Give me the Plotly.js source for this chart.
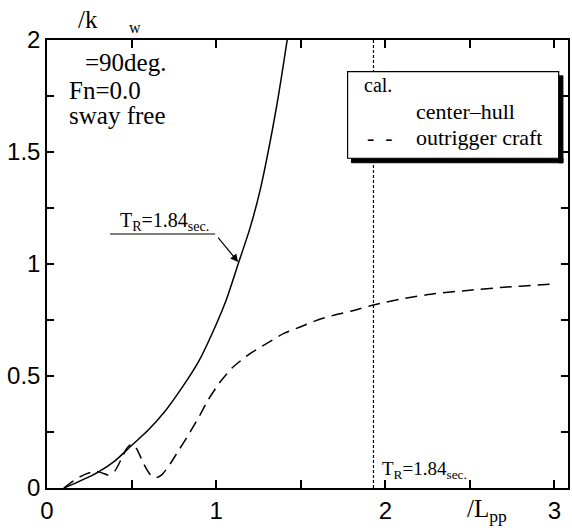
<!DOCTYPE html>
<html>
<head>
<meta charset="utf-8">
<script src="https://cdn.plot.ly/plotly-3.0.1.min.js"></script>
<style>html,body{margin:0;padding:0;background:#fff;}#chart{width:572px;height:532px;}</style>
</head>
<body>
<div id="chart"></div>
<script>
// center-hull (solid)
var hullX = [0.10, 0.20, 0.30, 0.40, 0.50, 0.60, 0.70, 0.80, 0.90, 1.00, 1.06, 1.13, 1.20, 1.26, 1.32, 1.37, 1.42];
var hullY = [0.00, 0.033, 0.07, 0.12, 0.19, 0.26, 0.345, 0.45, 0.57, 0.73, 0.84, 1.00, 1.16, 1.33, 1.55, 1.76, 2.00];
// outrigger craft (dashed)
var outX = [0.10, 0.15, 0.20, 0.25, 0.29, 0.33, 0.36, 0.40, 0.44, 0.47, 0.50, 0.53, 0.57, 0.61, 0.645, 0.68, 0.73, 0.78, 0.83, 0.90, 0.95, 1.02, 1.10, 1.20, 1.30, 1.40, 1.50, 1.60, 1.70, 1.80, 1.93, 2.10, 2.30, 2.50, 2.70, 2.90, 3.00];
var outY = [0.00, 0.028, 0.052, 0.068, 0.075, 0.066, 0.058, 0.075, 0.13, 0.175, 0.196, 0.175, 0.11, 0.06, 0.046, 0.06, 0.11, 0.17, 0.23, 0.32, 0.39, 0.47, 0.54, 0.60, 0.646, 0.69, 0.72, 0.75, 0.772, 0.79, 0.817, 0.845, 0.868, 0.883, 0.896, 0.906, 0.911];
var vLineX = 1.93;
// ticks: every 0.5 on x, every 0.25 on y, labels on the whole/half values
var xTickVals = [0, 0.5, 1, 1.5, 2, 2.5, 3];
var xTickText = ['0', '', '1', '', '2', '', '3'];
var yTickVals = [0, 0.25, 0.5, 0.75, 1, 1.25, 1.5, 1.75, 2];
var yTickText = ['0', '', '0.5', '', '1', '', '1.5', '', '2'];

var serif = 'Liberation Serif, Times New Roman, serif';
var sans = 'Liberation Sans, Arial, sans-serif';

var traces = [
  {x: hullX, y: hullY, mode: 'lines', line: {color: 'black', width: 1.5, shape: 'spline', smoothing: 0.8}},
  {x: outX, y: outY, mode: 'lines', line: {color: 'black', width: 1.5, dash: '12px,7px', shape: 'spline', smoothing: 0.6}}
];

var layout = {
  width: 572, height: 532,
  margin: {l: 47, r: 4, t: 40, b: 44},
  showlegend: false,
  xaxis: {range: [0, 3.08], showline: true, linecolor: 'black', linewidth: 1.5, mirror: 'allticks', ticks: 'inside', ticklen: 8, tickwidth: 1.8, tickcolor: 'black', tickmode: 'array', tickvals: xTickVals, ticktext: xTickText, showgrid: false, zeroline: false, tickfont: {family: sans, size: 24, color: 'black'}},
  yaxis: {range: [0, 2], showline: true, linecolor: 'black', linewidth: 1.5, mirror: 'allticks', ticks: 'inside', ticklen: 7, tickwidth: 1.8, tickcolor: 'black', tickmode: 'array', tickvals: yTickVals, ticktext: yTickText, showgrid: false, zeroline: false, tickfont: {family: sans, size: 24, color: 'black'}},
  shapes: [
    {type: 'line', xref: 'x', yref: 'y', x0: vLineX, x1: vLineX, y0: 0, y1: 2, line: {color: 'black', width: 1.2, dash: '3px,2px'}},
    // legend shadow bands and box
    {type: 'rect', xref: 'x', yref: 'y', x0: 3.025, x1: 3.05, y0: 1.452, y1: 1.84, fillcolor: 'black', line: {color: 'black', width: 1}},
    {type: 'rect', xref: 'x', yref: 'y', x0: 1.80, x1: 3.05, y0: 1.452, y1: 1.472, fillcolor: 'black', line: {color: 'black', width: 1}},
    {type: 'rect', xref: 'x', yref: 'y', x0: 1.777, x1: 3.025, y0: 1.472, y1: 1.859, fillcolor: 'white', line: {color: 'black', width: 1.2}},
    // annotation leader line
    {type: 'line', xref: 'x', yref: 'y', x0: 0.373, x1: 0.994, y0: 1.134, y1: 1.134, line: {color: 'black', width: 1.2}}
  ],
  annotations: [
    {xref: 'paper', yref: 'paper', x: 0.056, y: 1.045, xanchor: 'left', yanchor: 'middle', showarrow: false, text: '/k', font: {family: serif, size: 25, color: 'black'}},
    {xref: 'paper', yref: 'paper', x: 0.153, y: 1.028, xanchor: 'left', yanchor: 'middle', showarrow: false, text: 'w', font: {family: serif, size: 16, color: 'black'}},
    {xref: 'x', yref: 'y', x: 0.21, y: 1.9, xanchor: 'left', yanchor: 'middle', showarrow: false, text: '=90deg.', font: {family: serif, size: 25, color: 'black'}},
    {xref: 'x', yref: 'y', x: 0.12, y: 1.775, xanchor: 'left', yanchor: 'middle', showarrow: false, text: 'Fn=0.0', font: {family: serif, size: 25, color: 'black'}},
    {xref: 'x', yref: 'y', x: 0.12, y: 1.665, xanchor: 'left', yanchor: 'middle', showarrow: false, text: 'sway free', font: {family: serif, size: 25, color: 'black'}},
    {xref: 'x', yref: 'y', x: 1.86, y: 1.8, xanchor: 'left', yanchor: 'middle', showarrow: false, text: 'cal.', font: {family: serif, size: 20, color: 'black'}},
    {xref: 'x', yref: 'y', x: 2.17, y: 1.68, xanchor: 'left', yanchor: 'middle', showarrow: false, text: 'center\u2013hull', font: {family: serif, size: 22, color: 'black'}},
    {xref: 'x', yref: 'y', x: 1.88, y: 1.565, xanchor: 'left', yanchor: 'middle', showarrow: false, text: '-  -', font: {family: serif, size: 22, color: 'black'}},
    {xref: 'x', yref: 'y', x: 2.17, y: 1.565, xanchor: 'left', yanchor: 'middle', showarrow: false, text: 'outrigger craft', font: {family: serif, size: 22, color: 'black'}},
    {xref: 'x', yref: 'y', x: 0.42, y: 1.19, xanchor: 'left', yanchor: 'middle', showarrow: false, text: 'T<sub>R</sub>=1.84<sub>sec.</sub>', font: {family: serif, size: 20, color: 'black'}},
    {xref: 'x', yref: 'y', x: 1.13, y: 1.009, axref: 'x', ayref: 'y', ax: 0.994, ay: 1.134, showarrow: true, arrowhead: 2, arrowsize: 1.3, arrowwidth: 1.2, arrowcolor: 'black', text: ' '},
    {xref: 'x', yref: 'y', x: 1.97, y: 0.08, xanchor: 'left', yanchor: 'middle', showarrow: false, text: 'T<sub>R</sub>=1.84<sub>sec.</sub>', font: {family: serif, size: 19, color: 'black'}},
    {xref: 'x', yref: 'paper', x: 2.47, y: -0.05, xanchor: 'left', yanchor: 'middle', showarrow: false, text: '/L<sub>pp</sub>', font: {family: serif, size: 25, color: 'black'}}
  ]
};

Plotly.newPlot('chart', traces, layout, {displayModeBar: false}).then(function (gd) {
  // fallback: if the axis tick marks were not drawn, add them as inside tick segments
  var n = gd.querySelectorAll('path.xtick, path.ytick').length;
  if (n > 0) return;
  var xLen = 8 / 224, yLen = 7 / 169, extra = [];
  xTickVals.forEach(function (v) {
    extra.push({type: 'line', xref: 'x', yref: 'y', x0: v, x1: v, y0: 0, y1: xLen, line: {color: 'black', width: 1.8}});
    extra.push({type: 'line', xref: 'x', yref: 'y', x0: v, x1: v, y0: 2, y1: 2 - xLen, line: {color: 'black', width: 1.8}});
  });
  yTickVals.forEach(function (v) {
    extra.push({type: 'line', xref: 'x', yref: 'y', x0: 0, x1: yLen, y0: v, y1: v, line: {color: 'black', width: 1.8}});
    extra.push({type: 'line', xref: 'x', yref: 'y', x0: 3.08, x1: 3.08 - yLen, y0: v, y1: v, line: {color: 'black', width: 1.8}});
  });
  Plotly.relayout(gd, {shapes: layout.shapes.concat(extra)});
});
</script>
</body>
</html>
